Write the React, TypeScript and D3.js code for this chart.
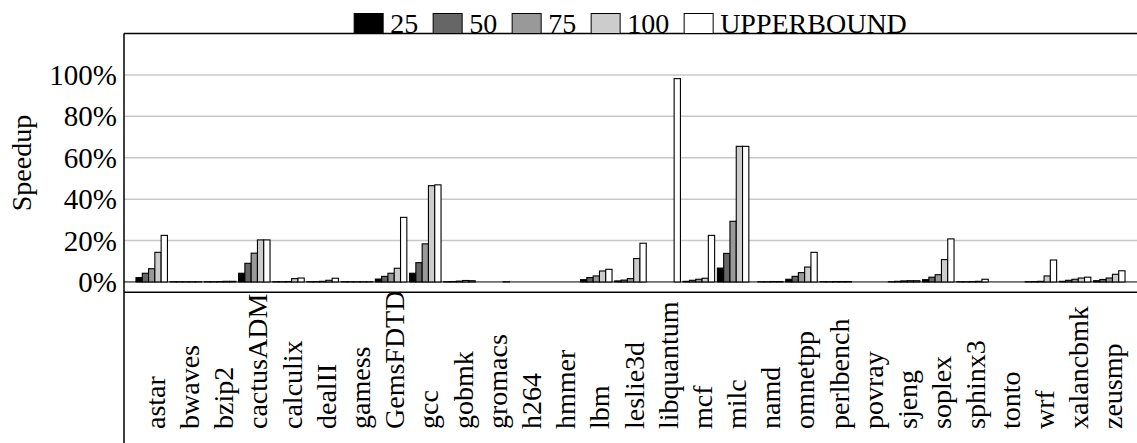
import React from 'react';
import * as d3 from 'd3';

// benchmarks on the x axis
const benchmarks = ['astar', 'bwaves', 'bzip2', 'cactusADM', 'calculix', 'dealII', 'gamess', 'GemsFDTD', 'gcc', 'gobmk', 'gromacs', 'h264', 'hmmer', 'lbm', 'leslie3d', 'libquantum', 'mcf', 'milc', 'namd', 'omnetpp', 'perlbench', 'povray', 'sjeng', 'soplex', 'sphinx3', 'tonto', 'wrf', 'xalancbmk', 'zeusmp'];

// speedup in percent, one value per benchmark
const s25 = [2.1, 0.1, 0.1, 4.2, 0.1, 0.1, 0.1, 1.4, 4.2, 0.1, 0, 0, 0, 1.1, 0.5, 0, 0.3, 6.7, 0, 1.3, 0.1, 0, 0.1, 1.1, 0.1, 0, 0.1, 0.3, 0.6];
const s50 = [4.2, 0.1, 0.1, 9.0, 0.1, 0.2, 0.1, 2.7, 9.3, 0.2, 0, 0, 0, 2.1, 0.9, 0, 0.8, 13.8, 0.1, 2.7, 0.1, 0, 0.3, 2.3, 0.1, 0, 0.2, 0.8, 1.2];
const s75 = [6.4, 0.1, 0.2, 13.9, 0.2, 0.3, 0.1, 4.2, 18.4, 0.4, 0, 0, 0, 2.9, 1.6, 0, 1.3, 29.3, 0.1, 4.5, 0.2, 0, 0.5, 3.5, 0.2, 0, 0.3, 1.3, 1.9];
const s100 = [14.3, 0.1, 0.3, 20.3, 1.6, 0.8, 0.1, 6.6, 46.5, 0.7, 0, 0, 0, 5.3, 11.3, 0, 1.8, 65.5, 0.2, 7.2, 0.2, 0, 0.6, 10.8, 0.3, 0, 2.9, 1.9, 3.7];
const sUpper = [22.5, 0.1, 0.3, 20.3, 1.9, 1.8, 0.1, 31.2, 46.9, 0.6, 0.1, 0, 0, 6.1, 18.7, 98.2, 22.5, 65.5, 0.2, 14.3, 0.2, 0, 0.6, 20.8, 1.3, 0, 10.6, 2.3, 5.4];

const seriesNames = ['25', '50', '75', '100', 'UPPERBOUND'];
const seriesValues = [s25, s50, s75, s100, sUpper];
const seriesColors = ['#000000', '#666666', '#999999', '#cccccc', '#ffffff'];
const yTicks = [0, 20, 40, 60, 80, 100];

const W = 1137, H = 443;
const left = 124, right = 1137, top = 33.5, axisY = 292.3;
const serif = '"Liberation Serif", "Times New Roman", serif';

const measure = (txt: string, size: number) => {
  const ctx = document.createElement('canvas').getContext('2d');
  if (!ctx) return txt.length * size * 0.5;
  ctx.font = `${size}px ${serif}`;
  return ctx.measureText(txt).width;
};

const App = () => {
  const x = d3.scaleBand<string>()
    .domain(benchmarks)
    .range([left, right])
    .paddingInner(0.08)
    .paddingOuter(0.35);

  const xs = d3.scaleBand<string>()
    .domain(seriesNames)
    .range([0, x.bandwidth()]);

  const y = d3.scaleLinear()
    .domain([-5, 120])
    .range([axisY, top]);

  // legend layout, centred over the plot
  const fs = 28, sw = 29, sh = 20, gap1 = 7, gap2 = 15;
  const widths = seriesNames.map(n => measure(n, fs));
  const total = d3.sum(widths) + seriesNames.length * (sw + gap1) + (seriesNames.length - 1) * gap2;
  let cur = (left + right) / 2 - total / 2;
  const legendPos = widths.map(w => {
    const p = cur;
    cur += sw + gap1 + w + gap2;
    return p;
  });

  return (
    <svg width={W} height={H} style={{ position: 'absolute', left: 0, top: 0, background: '#fff' }}>
      {/* x labels drawn first so the plot covers the long ones */}
      <g fontFamily={serif} fontSize={28} fill="#000">
        {benchmarks.map(b => {
          const cx = x(b)! + x.bandwidth() / 2 + 13;
          return (
            <text key={b} transform={`translate(${cx},429) rotate(-90)`} textAnchor="start">{b}</text>
          );
        })}
      </g>
      <rect x={left} y={0} width={right - left} height={axisY} fill="#fff" />

      {/* gridlines */}
      {yTicks.filter(t => t > 0).map(t => (
        <line key={t} x1={left} x2={right} y1={y(t)} y2={y(t)} stroke="#c8c8c8" strokeWidth={1.5} />
      ))}
      <line x1={left} x2={right} y1={y(0)} y2={y(0)} stroke="#000" strokeWidth={1} />

      {/* bars */}
      {benchmarks.map((b, i) => (
        <g key={b} transform={`translate(${x(b)},0)`}>
          {seriesNames.map((s, k) => {
            const v = seriesValues[k][i];
            return (
              <rect key={s} x={xs(s)} width={xs.bandwidth()} y={y(v)} height={y(0) - y(v)}
                fill={seriesColors[k]} stroke="#000" strokeWidth={1.1} />
            );
          })}
        </g>
      ))}

      {/* frame */}
      <line x1={left} x2={right} y1={top} y2={top} stroke="#000" strokeWidth={1.5} />
      <line x1={left} x2={right} y1={axisY} y2={axisY} stroke="#000" strokeWidth={1.5} />
      <line x1={left} x2={left} y1={top} y2={H} stroke="#000" strokeWidth={1.5} />

      {/* y ticks */}
      <g fontFamily={serif} fontSize={29} fill="#000" textAnchor="end">
        {yTicks.map(t => (
          <text key={t} x={117} y={y(t) + 10}>{`${t}%`}</text>
        ))}
      </g>
      <text transform={`translate(31,163) rotate(-90)`} textAnchor="middle" fontFamily={serif} fontSize={28}>Speedup</text>

      {/* legend */}
      <g fontFamily={serif} fontSize={fs}>
        {seriesNames.map((n, k) => (
          <g key={n}>
            <rect x={legendPos[k]} y={top - sh} width={sw} height={sh} fill={seriesColors[k]} stroke="#000" strokeWidth={1} />
            <text x={legendPos[k] + sw + gap1} y={top - 0.5}>{n}</text>
          </g>
        ))}
      </g>
    </svg>
  );
};

export default App;
